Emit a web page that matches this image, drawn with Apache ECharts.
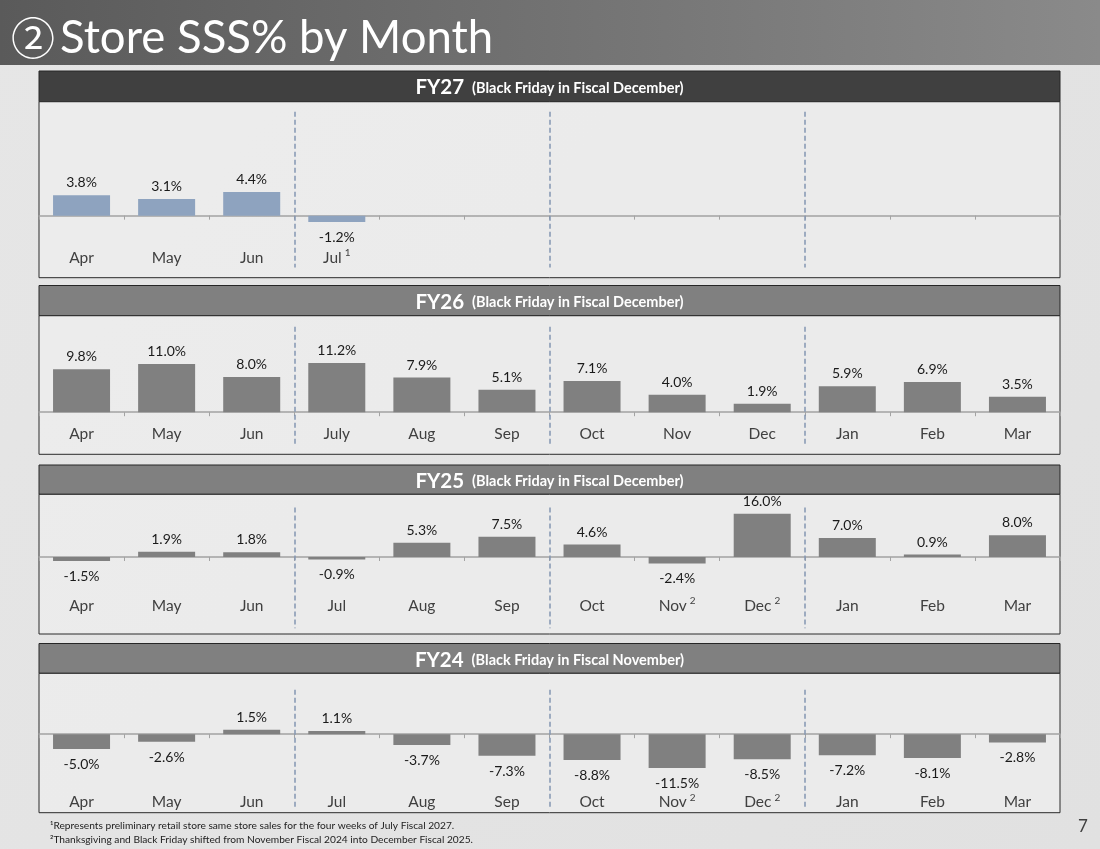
<!DOCTYPE html>
<html>
<head>
<meta charset="utf-8">
<script src="https://cdn.jsdelivr.net/npm/echarts@6/dist/echarts.min.js"></script>
<style>
  html, body { margin: 0; padding: 0; background: #e4e4e4; }
  #main { width: 1100px; height: 849px; }
</style>
</head>
<body>
<div id="main"></div>
<script>
// month labels per fiscal year
var monthsFY27 = ['Apr', 'May', 'Jun', 'Jul¹', '', '', '', '', '', '', '', ''];
var monthsFY26 = ['Apr', 'May', 'Jun', 'July', 'Aug', 'Sep', 'Oct', 'Nov', 'Dec', 'Jan', 'Feb', 'Mar'];
var monthsFY25 = ['Apr', 'May', 'Jun', 'Jul', 'Aug', 'Sep', 'Oct', 'Nov²', 'Dec²', 'Jan', 'Feb', 'Mar'];
var monthsFY24 = ['Apr', 'May', 'Jun', 'Jul', 'Aug', 'Sep', 'Oct', 'Nov²', 'Dec²', 'Jan', 'Feb', 'Mar'];

// store SSS% values
var sssFY27 = [3.8, 3.1, 4.4, -1.2];
var sssFY26 = [9.8, 11.0, 8.0, 11.2, 7.9, 5.1, 7.1, 4.0, 1.9, 5.9, 6.9, 3.5];
var sssFY25 = [-1.5, 1.9, 1.8, -0.9, 5.3, 7.5, 4.6, -2.4, 16.0, 7.0, 0.9, 8.0];
var sssFY24 = [-5.0, -2.6, 1.5, 1.1, -3.7, -7.3, -8.8, -11.5, -8.5, -7.2, -8.1, -2.8];

// quarter separators sit between these category bands
var quarterBreaks = [3, 6, 9];

var FONT = 'Lato';

// panel layout (pixels) and axis ranges
var panels = [
    { name: 'FY27', note: '(Black Friday in Fiscal December)', months: monthsFY27, values: sssFY27,
      headTop: 71, top: 101.7, bottom: 277.7, yMin: -11.6, yMax: 21.3, lift: 20, sep: [-9.7, 19.4],
      headFill: '#404040', barColor: '#8ea3bf' },
    { name: 'FY26', note: '(Black Friday in Fiscal December)', months: monthsFY26, values: sssFY26,
      headTop: 285.5, top: 315.7, bottom: 454.3, yMin: -9.6, yMax: 22.0, lift: 20, sep: [-7.6, 19.5],
      headFill: '#808080', barColor: '#808080' },
    { name: 'FY25', note: '(Black Friday in Fiscal December)', months: monthsFY25, values: sssFY25,
      headTop: 465, top: 494.3, bottom: 634, yMin: -28.5, yMax: 23.2, lift: 28.3, sep: [-26.4, 18.3],
      headFill: '#808080', barColor: '#808080' },
    { name: 'FY24', note: '(Black Friday in Fiscal November)', months: monthsFY24, values: sssFY24,
      headTop: 643.5, top: 673.3, bottom: 812.7, yMin: -26.7, yMax: 20.7, lift: 10.4, sep: [-25.7, 15.1],
      headFill: '#808080', barColor: '#808080' }
];

var LEFT = 39, RIGHT = 1060;

var grid = [], xAxis = [], yAxis = [], series = [];
var graphic = [
    { type: 'rect', shape: { x: 0, y: 0, width: 1100, height: 65 }, z: 0,
      style: { fill: new echarts.graphic.LinearGradient(0, 0, 1, 0, [
          { offset: 0, color: '#5a5a5a' }, { offset: 1, color: '#8a8a8a' }]) } },
    { type: 'text', x: 11, y: 38, z: 5,
      style: { text: '{c|②}{t|Store SSS% by Month}', fill: '#fff', align: 'left', verticalAlign: 'middle',
               textAlign: 'left', textVerticalAlign: 'middle',
               rich: { c: { fontFamily: 'Noto Sans CJK SC', fontSize: 44, fill: '#fff', padding: [0, 5, 0, 0] },
                       t: { fontFamily: FONT, fontSize: 45.5, fill: '#fff' } } } },
    { type: 'text', x: 50, y: 826, z: 5,
      style: { text: '¹Represents preliminary retail store same store sales for the four weeks of July Fiscal 2027.',
               fontFamily: FONT, fontSize: 10.2, fill: '#222', verticalAlign: 'middle', textVerticalAlign: 'middle' } },
    { type: 'text', x: 50, y: 840, z: 5,
      style: { text: '²Thanksgiving and Black Friday shifted from November Fiscal 2024 into December Fiscal 2025.',
               fontFamily: FONT, fontSize: 10.2, fill: '#222', verticalAlign: 'middle', textVerticalAlign: 'middle' } },
    { type: 'text', x: 1083, y: 827, z: 5,
      style: { text: '7', fontFamily: FONT, fontSize: 17, fill: '#404040', align: 'center', verticalAlign: 'middle',
               textAlign: 'center', textVerticalAlign: 'middle' } }
];

function monthLabel(v) {
    var last = v.slice(-1);
    if (last === '¹' || last === '²') {
        return '{m|' + v.slice(0, -1) + '}{s|' + (last === '¹' ? '1' : '2') + '}';
    }
    return '{m|' + v + '}';
}

panels.forEach(function (p, i) {
    // header bar and body box
    graphic.push({ type: 'rect', z: 0,
        shape: { x: LEFT, y: p.headTop, width: RIGHT - LEFT, height: p.top - p.headTop },
        style: { fill: p.headFill, stroke: '#262626', lineWidth: 1 } });
    graphic.push({ type: 'rect', z: 0,
        shape: { x: LEFT, y: p.top, width: RIGHT - LEFT, height: p.bottom - p.top },
        style: { fill: 'rgba(238,238,238,0.75)', stroke: '#2a2a2a', lineWidth: 1 } });
    graphic.push({ type: 'text', z: 5, x: (LEFT + RIGHT) / 2, y: (p.headTop + p.top) / 2 + 1.5,
        style: { text: '{a|' + p.name + '}{b|' + p.note + '}', align: 'center', verticalAlign: 'middle',
                 textAlign: 'center', textVerticalAlign: 'middle',
                 rich: { a: { fontFamily: FONT, fontWeight: 'bold', fontSize: 20.5, fill: '#fff', padding: [0, 8, 0, 0] },
                         b: { fontFamily: FONT, fontWeight: 'bold', fontSize: 14.5, fill: '#fff' } } } });

    grid.push({ left: LEFT, right: 1100 - RIGHT, top: p.top, height: p.bottom - p.top,
                containLabel: false, outerBoundsMode: 'none' });

    // zero line with boundary ticks
    xAxis.push({ type: 'category', gridIndex: i, data: p.months, boundaryGap: true,
        axisLine: { onZero: true, lineStyle: { color: '#a3a3a3', width: 1.5 } },
        axisTick: { show: true, interval: 0, length: 4, lineStyle: { color: '#a3a3a3' } },
        axisLabel: { show: false }, splitLine: { show: false } });
    // month labels near the bottom of the box
    xAxis.push({ type: 'category', gridIndex: i, data: p.months, position: 'bottom', boundaryGap: true,
        axisLine: { show: false, onZero: false }, axisTick: { show: false },
        axisLabel: { interval: 0, margin: -p.lift, verticalAlign: 'middle', formatter: monthLabel,
            rich: { m: { fontFamily: FONT, fontSize: 15.5, color: '#404040', lineHeight: 19 },
                    s: { fontFamily: FONT, fontSize: 10, color: '#404040', verticalAlign: 'top', padding: [0, 0, 0, 3] } } } });
    // hidden linear axis for the quarter separators
    xAxis.push({ type: 'value', gridIndex: i, min: 0, max: 12, show: false });

    yAxis.push({ type: 'value', gridIndex: i, min: p.yMin, max: p.yMax, show: false, splitLine: { show: false } });

    series.push({ type: 'bar', xAxisIndex: i * 3, yAxisIndex: i, barWidth: '67%',
        itemStyle: { color: p.barColor },
        label: { show: true, fontFamily: FONT, fontSize: 14, color: '#1a1a1a',
                 formatter: function (d) { return d.value.toFixed(1) + '%'; } },
        data: p.values.map(function (v) {
            return { value: v, label: { position: v < 0 ? 'bottom' : 'top', distance: v < 0 ? 8.5 : 5.5 } };
        }) });

    series.push({ type: 'line', xAxisIndex: i * 3 + 2, yAxisIndex: i, data: [[0, 0]],
        showSymbol: false, symbolSize: 0, lineStyle: { width: 0 }, silent: true,
        markLine: { silent: true, symbol: ['none', 'none'], label: { show: false },
            lineStyle: { color: '#8497b3', type: [5, 3], width: 1.5 },
            data: quarterBreaks.map(function (q) {
                return [{ coord: [q, p.sep[1]] }, { coord: [q, p.sep[0]] }];
            }) } });
});

var chart = echarts.init(document.getElementById('main'));
chart.setOption({
    animation: false,
    backgroundColor: new echarts.graphic.LinearGradient(0, 0, 1, 1, [
        { offset: 0, color: '#e6e6e6' }, { offset: 1, color: '#e1e1e1' }]),
    grid: grid,
    xAxis: xAxis,
    yAxis: yAxis,
    series: series,
    graphic: graphic
});
</script>
</body>
</html>
